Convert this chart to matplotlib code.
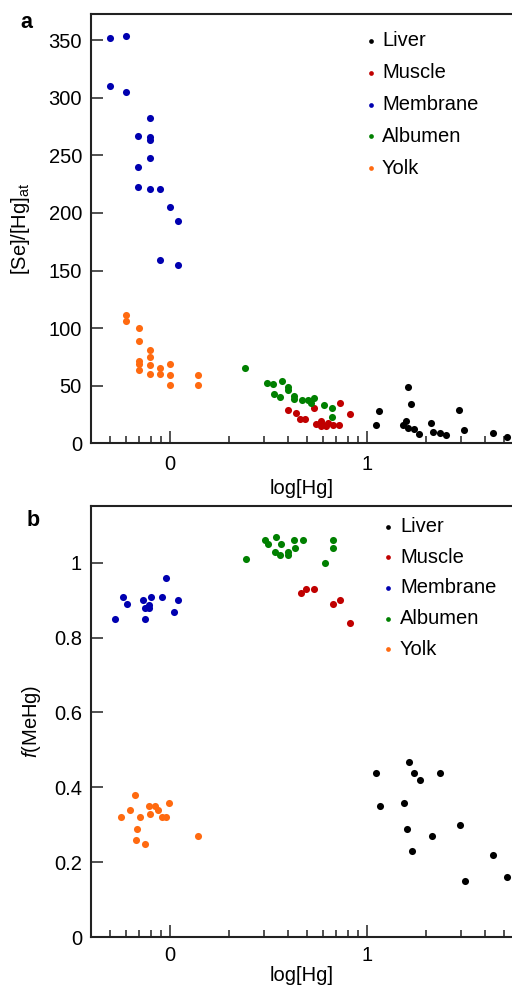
import numpy as np
import matplotlib
matplotlib.use("Agg")
import matplotlib.pyplot as plt
from matplotlib.ticker import FixedLocator, FuncFormatter

plt.rcParams['font.family'] = ['Liberation Sans', 'DejaVu Sans']
plt.rcParams['mathtext.fontset'] = 'custom'
plt.rcParams['mathtext.rm'] = 'Liberation Sans'
plt.rcParams['mathtext.it'] = 'Liberation Sans:italic'

# ---------------- data (x = log[Hg]) ----------------
categories = ["Liver", "Muscle", "Membrane", "Albumen", "Yolk"]
colors = ["#000000", "#c00000", "#0000b0", "#008000", "#ff6a10"]

# Panel a: [Se]/[Hg]at
a_liver_x = [1.046, 1.064, 1.210, 1.223, 1.200, 1.186, 1.208, 1.239, 1.267, 1.325,
             1.338, 1.372, 1.403, 1.470, 1.494, 1.640, 1.711]
a_liver_y = [15.9, 27.8, 49.1, 33.9, 19.6, 15.6, 13.3, 12.2, 7.8, 17.6,
             10.1, 8.7, 7.2, 28.9, 11.8, 9.2, 5.7]
a_muscle_x = [0.602, 0.640, 0.661, 0.687, 0.732, 0.743, 0.766, 0.780, 0.805, 0.830,
              0.861, 0.865, 0.915, 0.770, 0.795]
a_muscle_y = [29.0, 26.0, 20.8, 21.0, 30.8, 16.8, 19.6, 15.9, 17.4, 15.9,
              15.6, 34.6, 25.3, 14.8, 15.2]
a_membrane_x = [-0.303, -0.222, -0.303, -0.222, -0.100, -0.159, -0.100, -0.100, -0.100,
                -0.159, -0.159, -0.100, -0.048, 0.000, 0.040, -0.048, 0.040]
a_membrane_y = [351.6, 353.6, 310.4, 305.2, 282.4, 267.0, 265.6, 263.3, 247.7,
                239.6, 222.2, 220.5, 220.5, 205.4, 193.2, 159.1, 155.0]
a_albumen_x = [0.381, 0.492, 0.526, 0.568, 0.531, 0.560, 0.602, 0.602, 0.633, 0.633,
               0.673, 0.704, 0.731, 0.716, 0.785, 0.825, 0.822]
a_albumen_y = [65.1, 52.3, 51.5, 53.8, 42.8, 39.9, 49.1, 46.3, 41.1, 38.2,
               37.6, 37.6, 39.7, 35.4, 33.2, 30.8, 23.0]
a_yolk_x = [-0.223, -0.223, -0.156, -0.156, -0.156, -0.156, -0.156, -0.100, -0.100,
            -0.100, -0.100, -0.048, -0.048, 0.000, 0.000, 0.000, 0.145, 0.145]
a_yolk_y = [111.4, 106.4, 100.4, 88.5, 71.2, 68.6, 63.6, 80.7, 75.2,
            67.7, 60.2, 65.1, 60.2, 68.8, 59.3, 50.6, 59.3, 50.6]

# Panel b: f(MeHg)
b_liver_x = [1.049, 1.067, 1.191, 1.213, 1.205, 1.242, 1.269, 1.228, 1.330, 1.374,
             1.474, 1.497, 1.641, 1.714]
b_liver_y = [0.439, 0.350, 0.359, 0.469, 0.290, 0.439, 0.419, 0.230, 0.270, 0.439,
             0.300, 0.150, 0.220, 0.160]
b_muscle_x = [0.665, 0.690, 0.733, 0.827, 0.866, 0.915]
b_muscle_y = [0.920, 0.930, 0.930, 0.889, 0.900, 0.839]
b_membrane_x = [-0.278, -0.239, -0.217, -0.134, -0.127, -0.127, -0.105, -0.105, -0.093,
                -0.037, -0.019, 0.020, 0.041]
b_membrane_y = [0.849, 0.908, 0.889, 0.900, 0.849, 0.878, 0.878, 0.887, 0.908,
                0.908, 0.959, 0.868, 0.899]
b_albumen_x = [0.386, 0.485, 0.501, 0.540, 0.567, 0.535, 0.558, 0.602, 0.602, 0.633,
               0.636, 0.675, 0.827, 0.827, 0.788]
b_albumen_y = [1.009, 1.059, 1.050, 1.069, 1.050, 1.029, 1.020, 1.029, 1.020, 1.060,
               1.039, 1.060, 1.059, 1.039, 1.000]
b_yolk_x = [-0.246, -0.203, -0.176, -0.151, -0.164, -0.169, -0.127, -0.107, -0.098,
            -0.076, -0.058, -0.037, -0.020, -0.002, 0.145]
b_yolk_y = [0.320, 0.340, 0.380, 0.320, 0.290, 0.260, 0.250, 0.350, 0.329,
            0.351, 0.340, 0.320, 0.320, 0.359, 0.270]

panel_a = [(a_liver_x, a_liver_y), (a_muscle_x, a_muscle_y), (a_membrane_x, a_membrane_y),
           (a_albumen_x, a_albumen_y), (a_yolk_x, a_yolk_y)]
panel_b = [(b_liver_x, b_liver_y), (b_muscle_x, b_muscle_y), (b_membrane_x, b_membrane_y),
           (b_albumen_x, b_albumen_y), (b_yolk_x, b_yolk_y)]

a_yticks = [0, 50, 100, 150, 200, 250, 300, 350]
b_yticks = [0, 0.2, 0.4, 0.6, 0.8, 1.0]
x_major = [0, 1]
x_minor_vals = [0.5, 0.6, 0.7, 0.8, 0.9, 2, 3, 4, 5, 6, 7, 8, 9, 20, 30, 40, 50]

# ---------------- figure ----------------
W, H = 512, 985
fig = plt.figure(figsize=(W / 100, H / 100), dpi=100)
FS = 14.5

def px_axes(left, top, right, bottom):
    return [left / W, 1 - bottom / H, (right - left) / W, (bottom - top) / H]

ax_a = fig.add_axes(px_axes(91, 14.3, 512, 443.3))
ax_b = fig.add_axes(px_axes(91, 506, 512, 937.3))

def style(ax, ylim, yticks, xpad, xlabelpad):
    ax.set_xlim(-0.3995, 1.7376)
    ax.set_ylim(*ylim)
    ax.spines['right'].set_visible(False)
    for s in ['left', 'bottom', 'top']:
        ax.spines[s].set_linewidth(1.5)
        ax.spines[s].set_color('#222222')
    ax.xaxis.set_major_locator(FixedLocator(x_major))
    ax.xaxis.set_minor_locator(FixedLocator(list(np.log10(x_minor_vals))))
    ax.yaxis.set_major_locator(FixedLocator(yticks))
    ax.yaxis.set_major_formatter(FuncFormatter(lambda v, p: f"{v:g}"))
    ax.xaxis.set_major_formatter(FuncFormatter(lambda v, p: f"{v:g}"))
    ax.tick_params(axis='both', which='major', direction='in', length=8.5, width=1.1,
                   labelsize=FS, color='#222222', top=False, right=False)
    ax.tick_params(axis='x', which='minor', direction='in', length=5, width=1.1,
                   color='#222222', top=False)
    ax.tick_params(axis='x', which='major', pad=xpad)
    ax.tick_params(axis='y', which='major', pad=6.5)
    ax.set_xlabel("log[Hg]", fontsize=FS, labelpad=xlabelpad)

for ax, data in ((ax_a, panel_a), (ax_b, panel_b)):
    for (xs, ys), c, lab in zip(data, colors, categories):
        ax.plot(xs, ys, 'o', color=c, markersize=5.1, markeredgewidth=0, label=lab,
                clip_on=False, zorder=3)

style(ax_a, (0, 372.4), a_yticks, 8.5, 3.5)
style(ax_b, (0, 1.151), b_yticks, 6, 1)

ax_a.set_ylabel("[Se]/[Hg]$_\\mathregular{at}$", fontsize=FS, labelpad=12)
ax_b.set_ylabel("$f$(MeHg)", fontsize=FS, labelpad=8)

# legends (manual placement)
def legend(ax, mx, tx, y0, dy, bottom, height):
    for i, (c, lab) in enumerate(zip(colors, categories)):
        py = y0 + i * dy
        fy = (bottom - py) / height
        ax.plot([(mx - 91) / 421], [fy], 'o', color=c, markersize=3.4, markeredgewidth=0,
                transform=ax.transAxes, clip_on=False)
        ax.text((tx - 91) / 421, fy, lab, transform=ax.transAxes, fontsize=FS,
                va='center', ha='left')

legend(ax_a, 370.7, 382, 40.7, 31.9, 443.3, 429.0)
legend(ax_b, 388.3, 400, 526.7, 30.6, 937.3, 431.3)

fig.text(20 / W, 1 - 22 / H, "a", fontsize=FS + 1, fontweight='bold', ha='left', va='center')
fig.text(27 / W, 1 - 521 / H, "b", fontsize=FS + 1, fontweight='bold', ha='left', va='center')

fig.savefig("out.png", dpi=100)
